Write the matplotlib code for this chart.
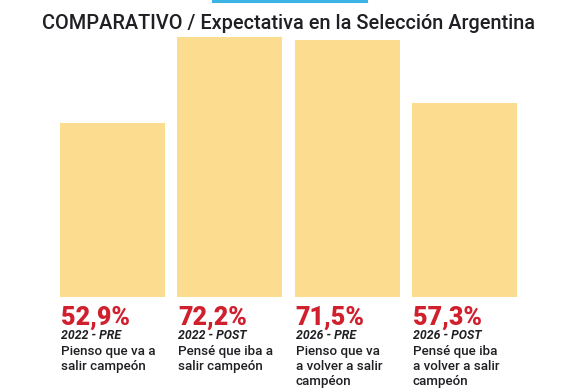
import matplotlib
matplotlib.use("Agg")
import matplotlib.pyplot as plt
from matplotlib.lines import Line2D

title = "COMPARATIVO / Expectativa en la Selección Argentina"
values = [52.9, 72.2, 71.5, 57.3]
pct_labels = ["52,9%", "72,2%", "71,5%", "57,3%"]
periods = ["2022 - PRE", "2022 - POST", "2026 - PRE", "2026 - POST"]
descriptions = [["Pienso que va a", "salir campeón"],
                ["Pensé que iba a", "salir campeón"],
                ["Pienso que va", "a volver a salir", "campéon"],
                ["Pensé que iba", "a volver a salir", "campeón"]]

bar_color = "#fcdc8e"
red = "#d0202e"
dark = "#1f1f24"
fonts = ["Roboto", "DejaVu Sans"]

W, H = 582, 391
fig = plt.figure(figsize=(W / 100, H / 100), dpi=100)
fig.patch.set_facecolor("white")

# axes from y=30px to y=297px (from top), full width
ax = fig.add_axes([0, (H - 297) / H, 1, (297 - 30) / H])
x = list(range(len(values)))
ax.bar(x, values, width=0.895, color=bar_color)
ax.set_xlim(-0.959, 4.003)
ax.set_ylim(13.9, 13.9 + 267 / 4.465)
ax.axis("off")

trans = ax.get_xaxis_transform()
for i in x:
    left = i - 0.895 / 2
    ax.annotate(pct_labels[i], xy=(left, 0), xycoords=trans,
                xytext=(1, -28), textcoords="offset pixels",
                ha="left", va="baseline", color=red, fontsize=18,
                fontweight="heavy", family=fonts)
    ax.annotate(periods[i], xy=(left, 0), xycoords=trans,
                xytext=(1, -42), textcoords="offset pixels",
                ha="left", va="baseline", color=dark, fontsize=8.8,
                fontweight="bold", fontstyle="italic", family=fonts)
    for k, line in enumerate(descriptions[i]):
        ax.annotate(line, xy=(left, 0), xycoords=trans,
                    xytext=(1, -58 - 15 * k), textcoords="offset pixels",
                    ha="left", va="baseline", color=dark, fontsize=9.6,
                    fontweight="medium", family=fonts)

fig.text(289 / W, 1 - 29 / H, title, ha="center", va="baseline", color=dark,
         fontsize=14.3, fontweight="medium", family=fonts)

fig.add_artist(Line2D([213 / W, 366 / W], [1 - 1 / H, 1 - 1 / H],
                      color="#3bb4e5", linewidth=2.2, transform=fig.transFigure))

fig.savefig("out.png", dpi=100, facecolor="white")
